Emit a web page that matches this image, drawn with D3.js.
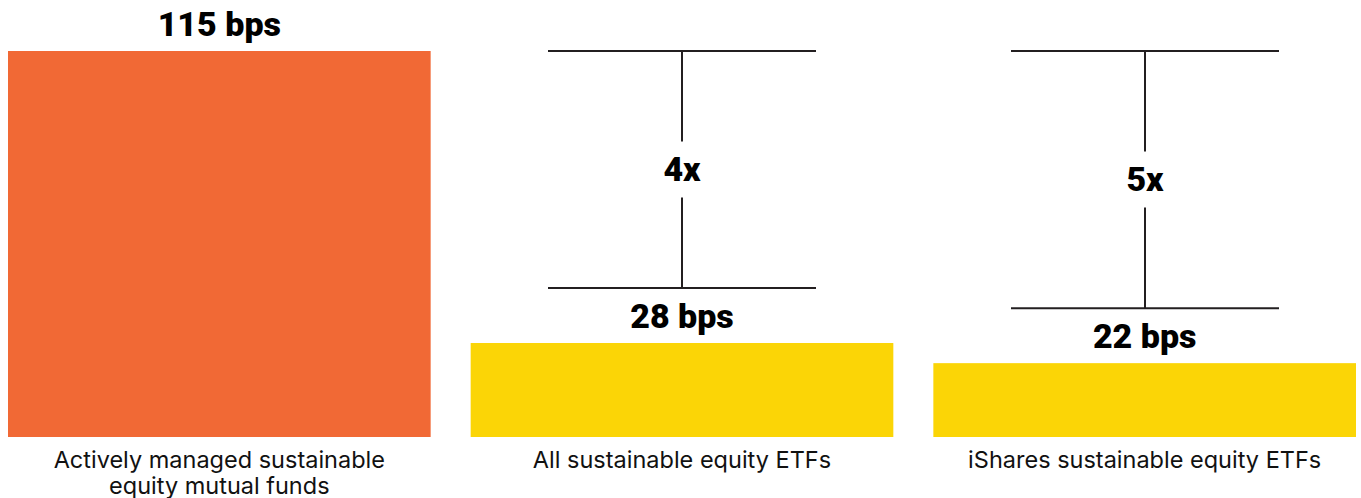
<!DOCTYPE html>
<html>
<head>
<meta charset="utf-8">
<script src="https://cdn.jsdelivr.net/npm/d3@7"></script>
<style>
  body { margin: 0; background: #fff; }
  .val { font-family: Roboto, sans-serif; font-weight: 900; font-size: 34px; fill: #000; }
  .cat { font-family: Inter, "Open Sans", sans-serif; font-size: 23.5px; fill: #111; }
</style>
</head>
<body>
<div class="chart"></div>
<script>
// Chart data
var categories = ["Actively managed sustainable|equity mutual funds", "All sustainable equity ETFs", "iShares sustainable equity ETFs"];
var fees = [115, 28, 22];
var feeLabels = ["115 bps", "28 bps", "22 bps"];
var ratioLabels = [null, "4x", "5x"];
var barColors = ["#f16935", "#fbd506", "#fbd506"];

var svgWidth = 1361;
var svgHeight = 498;

var svg = d3.select(".chart")
  .append("svg")
  .attr("width", svgWidth)
  .attr("height", svgHeight);

var data = categories.map(function(c, i) {
  return { cat: c, fee: fees[i], label: feeLabels[i], ratio: ratioLabels[i], color: barColors[i] };
});

var x = d3.scaleBand()
  .domain(categories)
  .range([8, 1356])
  .paddingInner(0.0865)
  .paddingOuter(0);

var y = d3.scaleLinear()
  .domain([0, d3.max(fees)])
  .range([437, 51]);

// bars
svg.selectAll("rect.bar")
  .data(data)
  .enter().append("rect")
  .attr("class", "bar")
  .attr("x", function(d) { return x(d.cat); })
  .attr("y", function(d) { return y(d.fee); })
  .attr("width", x.bandwidth())
  .attr("height", function(d) { return y(0) - y(d.fee); })
  .attr("fill", function(d) { return d.color; });

// value labels
svg.selectAll("text.val")
  .data(data)
  .enter().append("text")
  .attr("class", "val")
  .attr("x", function(d) { return x(d.cat) + x.bandwidth() / 2; })
  .attr("y", function(d) { return y(d.fee) - 15; })
  .attr("text-anchor", "middle")
  .text(function(d) { return d.label; });

// category labels (split on |)
var cats = svg.selectAll("text.cat")
  .data(data)
  .enter().append("text")
  .attr("class", "cat")
  .attr("text-anchor", "middle")
  .attr("x", function(d) { return x(d.cat) + x.bandwidth() / 2; })
  .attr("y", 468);

cats.selectAll("tspan")
  .data(function(d) {
    return d.cat.split("|").map(function(t) { return { t: t, cx: x(d.cat) + x.bandwidth() / 2 }; });
  })
  .enter().append("tspan")
  .attr("x", function(d) { return d.cx; })
  .attr("dy", function(d, i) { return i === 0 ? 0 : 26; })
  .text(function(d) { return d.t; });

// ratio brackets
var topY = y(d3.max(fees));
var halfW = 134;
var gap = 28;

var brackets = svg.selectAll("g.bracket")
  .data(data.filter(function(d) { return d.ratio; }))
  .enter().append("g")
  .attr("class", "bracket")
  .attr("stroke", "#231f20")
  .attr("stroke-width", 2);

brackets.each(function(d) {
  var g = d3.select(this);
  var cx = Math.round(x(d.cat) + x.bandwidth() / 2);
  var bottom = y(d.fee) - 55;
  var mid = (topY + bottom) / 2;

  g.append("line").attr("x1", cx - halfW).attr("x2", cx + halfW).attr("y1", topY).attr("y2", topY);
  g.append("line").attr("x1", cx - halfW).attr("x2", cx + halfW).attr("y1", bottom).attr("y2", bottom);
  g.append("line").attr("x1", cx).attr("x2", cx).attr("y1", topY).attr("y2", mid - gap);
  g.append("line").attr("x1", cx).attr("x2", cx).attr("y1", mid + gap).attr("y2", bottom);

  g.append("text")
    .attr("class", "val")
    .attr("stroke", "none")
    .attr("x", cx)
    .attr("y", mid + 11)
    .attr("text-anchor", "middle")
    .text(d.ratio);
});
</script>
</body>
</html>
